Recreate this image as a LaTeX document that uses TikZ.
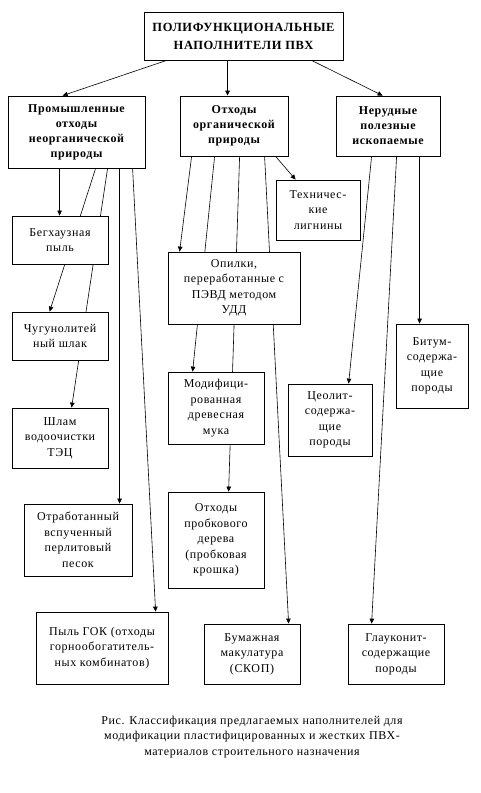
\documentclass[tikz,border=0pt]{standalone}
\usepackage{fontspec}
\setmainfont{Liberation Serif}[LetterSpace=5]
\usetikzlibrary{arrows.meta,backgrounds}

\begin{document}
\begin{tikzpicture}[x=1pt,y=-1pt]
  \tikzstyle{every node}+=[font=\fontsize{12}{15.5}\selectfont]
  \tikzstyle{box}=[draw,fill=white,line width=0.8pt,align=center,inner sep=2pt]
  \tikzstyle{head}=[box,font=\bfseries\fontsize{12}{15}\selectfont]
  \tikzstyle{link}=[line width=0.6pt,-{Triangle[length=5pt,width=4.5pt]}]
  \useasboundingbox (0,0) rectangle (481,793);
  % main box and the three groups
  \node[head,minimum width=199pt,minimum height=48pt,font=\bfseries\fontsize{12.5}{18}\selectfont] (top) at (243.5,36) {ПОЛИФУНКЦИОНАЛЬНЫЕ\\НАПОЛНИТЕЛИ ПВХ};
  \node[head,minimum width=137pt,minimum height=72pt] (prom) at (76.5,132) {Промышленные\\отходы\\неорганической\\природы};
  \node[head,minimum width=108pt,minimum height=60pt] (org) at (234,126) {Отходы\\органической\\природы};
  \node[head,minimum width=104pt,minimum height=60pt] (nerud) at (388,126) {Нерудные\\полезные\\ископаемые};
  % inorganic wastes
  \node[box,minimum width=96pt,minimum height=48pt] (beg) at (60,240) {Бегхаузная\\пыль};
  \node[box,minimum width=96pt,minimum height=48pt] (chug) at (60,336) {Чугунолитей\\ный шлак};
  \node[box,minimum width=96pt,minimum height=60pt] (shlam) at (60,438) {Шлам\\водоочистки\\ТЭЦ};
  \node[box,minimum width=108pt,minimum height=72pt] (perl) at (78,540) {Отработанный\\вспученный\\перлитовый\\песок};
  \node[box,minimum width=132pt,minimum height=72pt] (gok) at (102,648) {Пыль ГОК (отходы\\горнообогатитель-\\ных комбинатов)};
  % organic wastes
  \node[box,minimum width=84pt,minimum height=60pt] (lign) at (318,210) {Техничес-\\кие\\лигнины};
  \node[box,minimum width=132pt,minimum height=72pt] (opil) at (234,288) {Опилки,\\переработанные с\\ПЭВД методом\\УДД};
  \node[box,minimum width=96pt,minimum height=72pt] (muka) at (216,408) {Модифици-\\рованная\\древесная\\мука};
  \node[box,minimum width=96pt,minimum height=96pt] (probk) at (216,540) {Отходы\\пробкового\\дерева\\(пробковая\\крошка)};
  \node[box,minimum width=96pt,minimum height=60pt] (bum) at (252,654) {Бумажная\\макулатура\\(СКОП)};
  % minerals
  \node[box,minimum width=72pt,minimum height=84pt] (bitum) at (432,366) {Битум-\\содержа-\\щие\\породы};
  \node[box,minimum width=84pt,minimum height=72pt] (ceol) at (330,420) {Цеолит-\\содержа-\\щие\\породы};
  \node[box,minimum width=96pt,minimum height=60pt] (glauk) at (396,654) {Глауконит-\\содержащие\\породы};
  \node[align=center] (caption) at (252,737) {Рис. Классификация предлагаемых наполнителей для\\модификации пластифицированных и жестких ПВХ-\\материалов строительного назначения};
  \begin{pgfonlayer}{background}
    \draw[link] ([xshift=23pt]top.south west) -- ([xshift=55pt]prom.north west);
    \draw[link,line width=1.3pt] ([xshift=84pt]top.south west) -- ([xshift=48pt]org.north west);
    \draw[link] ([xshift=168pt]top.south west) -- ([xshift=47pt]nerud.north west);
    \draw[link] ([xshift=52pt]prom.south west) -- ([xshift=48pt]beg.north west);
    \draw[link] ([xshift=88pt]prom.south west) -- ([xshift=38pt]chug.north west);
    \draw[link] ([xshift=100pt]prom.south west) -- ([xshift=60pt]shlam.north west);
    \draw[link] ([xshift=112pt]prom.south west) -- ([xshift=96pt]perl.north west);
    \draw[link] ([xshift=125pt]prom.south west) -- ([xshift=120pt]gok.north west);
    \draw[link] ([xshift=96pt]org.south west) -- ([xshift=20pt]lign.north west);
    \draw[link] ([xshift=12pt]org.south west) -- ([xshift=12pt]opil.north west);
    \draw[link] ([xshift=35pt]org.south west) -- ([xshift=25pt]muka.north west);
    \draw[link] ([xshift=60pt]org.south west) -- ([xshift=61pt]probk.north west);
    \draw[link] ([xshift=85pt]org.south west) -- ([xshift=85pt]bum.north west);
    \draw[link] ([xshift=36pt]nerud.south west) -- ([xshift=61pt]ceol.north west);
    \draw[link] ([xshift=61pt]nerud.south west) -- ([xshift=24pt]glauk.north west);
    \draw[link] ([xshift=84pt]nerud.south west) -- ([xshift=24pt]bitum.north west);
  \end{pgfonlayer}
\end{tikzpicture}
\end{document}
